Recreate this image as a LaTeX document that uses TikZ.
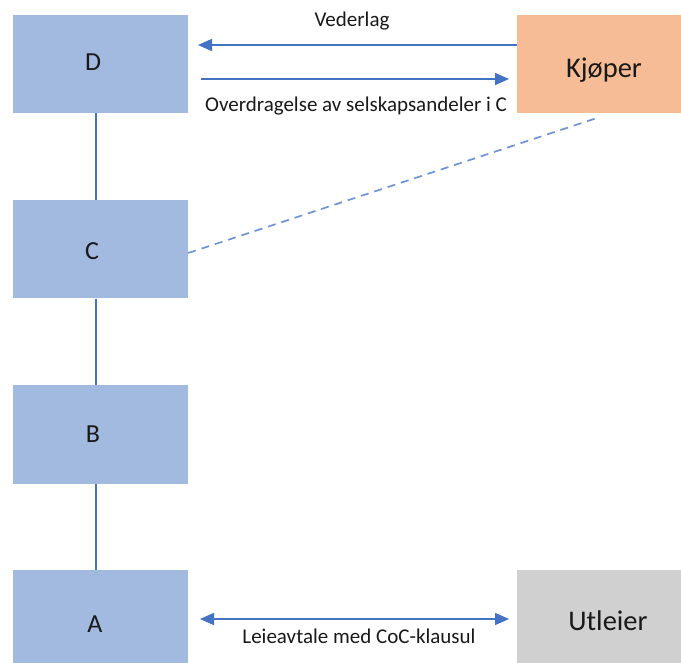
\documentclass[tikz,border=0pt]{standalone}
\usepackage{fontspec}
\setmainfont{Carlito}
\usetikzlibrary{arrows.meta}
\definecolor{boxblue}{RGB}{162,185,224}
\definecolor{boxorange}{RGB}{245,188,150}
\definecolor{boxgray}{RGB}{208,208,208}
\definecolor{linkblue}{RGB}{68,114,196}
\definecolor{dashblue}{RGB}{110,148,216}
\definecolor{ink}{RGB}{25,25,25}
\begin{document}
\begin{tikzpicture}[x=1pt,y=-1pt,
  entity/.style={draw=none,minimum width=175pt,minimum height=98pt,inner sep=0pt},
  company/.style={entity,fill=boxblue},
  letter/.style={text=ink,font=\fontsize{26}{29}\selectfont,inner sep=0pt},
  party/.style={text=ink,font=\fontsize{28.5}{31}\selectfont,inner sep=0pt},
  flowlabel/.style={text=ink,font=\fontsize{21}{24}\selectfont,inner sep=0pt},
  ownerline/.style={draw=linkblue,line width=2pt},
  flow/.style={draw=linkblue,line width=1.6pt,-{Triangle[length=14pt,width=12pt]}},
  bothflow/.style={draw=linkblue,line width=1.6pt,{Triangle[length=14pt,width=12pt]}-{Triangle[length=14pt,width=12pt]}},
  ownlink/.style={draw=dashblue,line width=1.7pt,dash pattern=on 8pt off 6pt}]
\useasboundingbox (0,0) rectangle (681,663);

% company chain
\node[company] (D) at (100.5,64) {};
\node[company] (C) at (100.5,249.5) {};
\node[company] (B) at (100.5,434.5) {};
\node[company] (A) at (100.5,619) {};
\node[letter] (Dt) at (93,62) {D};
\node[letter] (Ct) at (92,251) {C};
\node[letter] (Bt) at (93,434) {B};
\node[letter] (At) at (95,624) {A};

% outside parties
\node[entity,fill=boxorange] (K) at (604.5,64) {};
\node[entity,fill=boxgray] (U) at (604.5,619) {};
\node[party] (Kt) at (604,70) {Kjøper};
\node[party] (Ut) at (608,621) {Utleier};

% ownership chain
\coordinate (spine) at (96,0);
\draw[ownerline] (D.south -| spine) -- (C.north -| spine);
\draw[ownerline] (C.south -| spine) -- (B.north -| spine);
\draw[ownerline] (B.south -| spine) -- (A.north -| spine);

% transaction between D and the buyer
\coordinate (payEnd) at (198,45);
\coordinate (shareStart) at (201,79);
\coordinate (shareEnd) at (509,79);
\draw[flow] (K.west |- payEnd) -- (payEnd);
\draw[flow] (shareStart) -- (shareEnd);
\node[flowlabel] (pay) at (352,21) {Vederlag};
\node[flowlabel] (share) at (356,106) {Overdragelse av selskapsandeler i C};

% buyer's indirect hold on C
\coordinate (ownTop) at (600,117);
\draw[ownlink] (C.east |- 0,253) -- (ownTop);

% lease
\coordinate (leaseL) at (200,619);
\coordinate (leaseR) at (509,619);
\draw[bothflow] (leaseL) -- (leaseR);
\node[flowlabel] (lease) at (359,636) {Leieavtale med CoC-klausul};
\end{tikzpicture}
\end{document}
